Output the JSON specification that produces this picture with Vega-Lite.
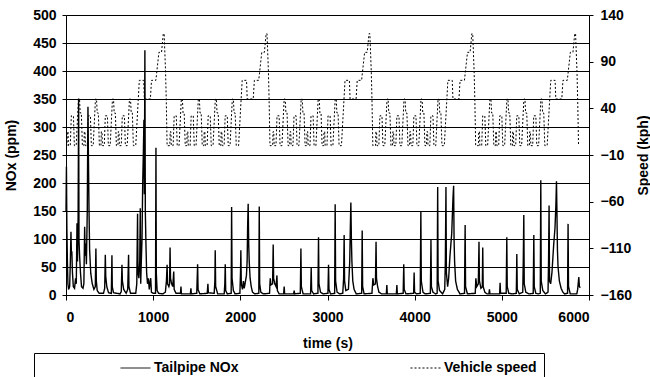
{
"$schema": "https://vega.github.io/schema/vega-lite/v6.json",
"width": 523, "height": 280,
"autosize": {"type": "none"},
"padding": {"left": 66, "top": 15, "right": 61, "bottom": 82},
"config": {
  "font": "Liberation Sans",
  "view": {"stroke": null},
  "axis": {"labelFont": "Liberation Sans", "labelFontWeight": "bold", "labelFontSize": 14, "labelColor": "black",
           "titleFont": "Liberation Sans", "titleFontWeight": "bold", "titleFontSize": 14, "titleColor": "black",
           "domainColor": "black", "tickColor": "black", "gridColor": "black", "gridOpacity": 1, "domainWidth": 1, "tickWidth": 1}
},
"datasets": {
"nox": [
{"t":0,"nox":150},{"t":5,"nox":229},{"t":10,"nox":120},{"t":16,"nox":60},{"t":22,"nox":20},{"t":30,"nox":10},{"t":42,"nox":15},{"t":50,"nox":60},{"t":57,"nox":113},{"t":62,"nox":72},{"t":67,"nox":78},{"t":74,"nox":40},{"t":84,"nox":15},{"t":98,"nox":12},{"t":110,"nox":30},{"t":118,"nox":20},{"t":126,"nox":128},{"t":132,"nox":60},{"t":139,"nox":140},{"t":145,"nox":351},{"t":149,"nox":98},{"t":156,"nox":70},{"t":166,"nox":40},{"t":178,"nox":15},{"t":195,"nox":12},{"t":205,"nox":20},{"t":214,"nox":122},{"t":220,"nox":70},{"t":226,"nox":92},{"t":234,"nox":55},{"t":244,"nox":150},{"t":252,"nox":336},{"t":257,"nox":250},{"t":264,"nox":152},{"t":271,"nox":80},{"t":284,"nox":39},{"t":300,"nox":21},{"t":320,"nox":10},{"t":336,"nox":15},{"t":343,"nox":83},{"t":348,"nox":25},{"t":358,"nox":8},{"t":380,"nox":3},{"t":430,"nox":3},{"t":444,"nox":12},{"t":451,"nox":72},{"t":456,"nox":33},{"t":468,"nox":15},{"t":488,"nox":4},{"t":520,"nox":3},{"t":527,"nox":71},{"t":531,"nox":15},{"t":545,"nox":4},{"t":620,"nox":2},{"t":634,"nox":6},{"t":642,"nox":54},{"t":647,"nox":25},{"t":662,"nox":10},{"t":690,"nox":3},{"t":708,"nox":10},{"t":718,"nox":72},{"t":722,"nox":15},{"t":740,"nox":3},{"t":800,"nox":3},{"t":812,"nox":20},{"t":821,"nox":145},{"t":826,"nox":40},{"t":836,"nox":30},{"t":846,"nox":60},{"t":852,"nox":155},{"t":857,"nox":20},{"t":864,"nox":60},{"t":872,"nox":100},{"t":880,"nox":200},{"t":887,"nox":250},{"t":894,"nox":313},{"t":899,"nox":180},{"t":905,"nox":437},{"t":910,"nox":150},{"t":917,"nox":92},{"t":925,"nox":40},{"t":935,"nox":20},{"t":945,"nox":30},{"t":955,"nox":10},{"t":966,"nox":25},{"t":972,"nox":30},{"t":980,"nox":5},{"t":1000,"nox":3},{"t":1027,"nox":3},{"t":1032,"nox":263},{"t":1036,"nox":40},{"t":1045,"nox":8},{"t":1062,"nox":3},{"t":1110,"nox":2},{"t":1140,"nox":5},{"t":1152,"nox":25},{"t":1160,"nox":54},{"t":1165,"nox":20},{"t":1180,"nox":15},{"t":1188,"nox":20},{"t":1194,"nox":85},{"t":1199,"nox":30},{"t":1212,"nox":20},{"t":1225,"nox":15},{"t":1236,"nox":42},{"t":1241,"nox":10},{"t":1262,"nox":3},{"t":1313,"nox":3},{"t":1319,"nox":15},{"t":1324,"nox":2},{"t":1427,"nox":2},{"t":1433,"nox":12},{"t":1438,"nox":2},{"t":1500,"nox":3},{"t":1510,"nox":55},{"t":1515,"nox":10},{"t":1535,"nox":2},{"t":1620,"nox":3},{"t":1628,"nox":20},{"t":1633,"nox":4},{"t":1700,"nox":3},{"t":1708,"nox":25},{"t":1712,"nox":80},{"t":1717,"nox":15},{"t":1740,"nox":2},{"t":1815,"nox":2},{"t":1822,"nox":20},{"t":1827,"nox":55},{"t":1832,"nox":8},{"t":1850,"nox":2},{"t":1895,"nox":3},{"t":1900,"nox":157},{"t":1905,"nox":30},{"t":1920,"nox":8},{"t":1940,"nox":2},{"t":1995,"nox":3},{"t":2002,"nox":40},{"t":2006,"nox":80},{"t":2011,"nox":20},{"t":2025,"nox":10},{"t":2035,"nox":25},{"t":2045,"nox":12},{"t":2070,"nox":35},{"t":2078,"nox":60},{"t":2084,"nox":125},{"t":2090,"nox":163},{"t":2096,"nox":90},{"t":2102,"nox":60},{"t":2112,"nox":30},{"t":2125,"nox":15},{"t":2140,"nox":5},{"t":2165,"nox":2},{"t":2212,"nox":3},{"t":2217,"nox":158},{"t":2222,"nox":20},{"t":2235,"nox":5},{"t":2265,"nox":2},{"t":2335,"nox":3},{"t":2343,"nox":30},{"t":2350,"nox":18},{"t":2370,"nox":20},{"t":2377,"nox":90},{"t":2382,"nox":30},{"t":2395,"nox":20},{"t":2410,"nox":15},{"t":2420,"nox":35},{"t":2425,"nox":8},{"t":2445,"nox":2},{"t":2497,"nox":2},{"t":2503,"nox":15},{"t":2508,"nox":2},{"t":2612,"nox":2},{"t":2618,"nox":8},{"t":2623,"nox":2},{"t":2688,"nox":3},{"t":2695,"nox":83},{"t":2700,"nox":15},{"t":2720,"nox":2},{"t":2806,"nox":2},{"t":2813,"nox":48},{"t":2818,"nox":8},{"t":2840,"nox":2},{"t":2890,"nox":3},{"t":2897,"nox":103},{"t":2902,"nox":20},{"t":2920,"nox":5},{"t":2950,"nox":2},{"t":3005,"nox":3},{"t":3012,"nox":54},{"t":3017,"nox":10},{"t":3035,"nox":2},{"t":3082,"nox":3},{"t":3088,"nox":162},{"t":3093,"nox":25},{"t":3110,"nox":5},{"t":3140,"nox":2},{"t":3175,"nox":3},{"t":3185,"nox":30},{"t":3191,"nox":107},{"t":3196,"nox":25},{"t":3210,"nox":8},{"t":3240,"nox":10},{"t":3255,"nox":60},{"t":3262,"nox":120},{"t":3268,"nox":165},{"t":3274,"nox":100},{"t":3280,"nox":60},{"t":3290,"nox":25},{"t":3305,"nox":10},{"t":3330,"nox":2},{"t":3392,"nox":3},{"t":3398,"nox":115},{"t":3403,"nox":15},{"t":3420,"nox":2},{"t":3510,"nox":3},{"t":3521,"nox":30},{"t":3530,"nox":18},{"t":3550,"nox":20},{"t":3557,"nox":95},{"t":3562,"nox":30},{"t":3575,"nox":15},{"t":3590,"nox":5},{"t":3620,"nox":2},{"t":3675,"nox":2},{"t":3681,"nox":18},{"t":3686,"nox":2},{"t":3790,"nox":2},{"t":3796,"nox":18},{"t":3801,"nox":2},{"t":3868,"nox":3},{"t":3875,"nox":55},{"t":3880,"nox":10},{"t":3900,"nox":2},{"t":3988,"nox":3},{"t":3994,"nox":40},{"t":3999,"nox":5},{"t":4020,"nox":2},{"t":4064,"nox":3},{"t":4071,"nox":150},{"t":4076,"nox":25},{"t":4095,"nox":5},{"t":4120,"nox":2},{"t":4180,"nox":3},{"t":4187,"nox":98},{"t":4192,"nox":15},{"t":4210,"nox":5},{"t":4240,"nox":2},{"t":4258,"nox":3},{"t":4264,"nox":193},{"t":4269,"nox":25},{"t":4285,"nox":8},{"t":4320,"nox":2},{"t":4345,"nox":10},{"t":4352,"nox":60},{"t":4359,"nox":193},{"t":4364,"nox":40},{"t":4378,"nox":15},{"t":4390,"nox":30},{"t":4405,"nox":70},{"t":4425,"nox":110},{"t":4440,"nox":175},{"t":4447,"nox":195},{"t":4452,"nox":100},{"t":4458,"nox":60},{"t":4470,"nox":25},{"t":4490,"nox":10},{"t":4520,"nox":2},{"t":4572,"nox":3},{"t":4579,"nox":125},{"t":4584,"nox":15},{"t":4605,"nox":2},{"t":4695,"nox":3},{"t":4702,"nox":30},{"t":4712,"nox":15},{"t":4730,"nox":20},{"t":4738,"nox":95},{"t":4743,"nox":25},{"t":4760,"nox":12},{"t":4776,"nox":15},{"t":4781,"nox":85},{"t":4786,"nox":15},{"t":4805,"nox":5},{"t":4830,"nox":2},{"t":4852,"nox":2},{"t":4858,"nox":10},{"t":4863,"nox":2},{"t":4975,"nox":2},{"t":4980,"nox":22},{"t":4985,"nox":3},{"t":5050,"nox":3},{"t":5057,"nox":103},{"t":5062,"nox":15},{"t":5080,"nox":3},{"t":5120,"nox":2},{"t":5166,"nox":3},{"t":5172,"nox":73},{"t":5177,"nox":10},{"t":5200,"nox":2},{"t":5240,"nox":5},{"t":5246,"nox":60},{"t":5252,"nox":143},{"t":5257,"nox":20},{"t":5275,"nox":5},{"t":5310,"nox":2},{"t":5360,"nox":3},{"t":5367,"nox":107},{"t":5372,"nox":15},{"t":5390,"nox":3},{"t":5420,"nox":2},{"t":5441,"nox":3},{"t":5447,"nox":205},{"t":5452,"nox":25},{"t":5470,"nox":8},{"t":5500,"nox":2},{"t":5530,"nox":5},{"t":5536,"nox":60},{"t":5542,"nox":160},{"t":5547,"nox":25},{"t":5560,"nox":20},{"t":5575,"nox":40},{"t":5595,"nox":90},{"t":5610,"nox":120},{"t":5620,"nox":160},{"t":5627,"nox":203},{"t":5632,"nox":150},{"t":5638,"nox":80},{"t":5645,"nox":50},{"t":5660,"nox":25},{"t":5680,"nox":12},{"t":5700,"nox":5},{"t":5720,"nox":2},{"t":5754,"nox":3},{"t":5760,"nox":127},{"t":5765,"nox":15},{"t":5785,"nox":2},{"t":5860,"nox":2},{"t":5870,"nox":10},{"t":5883,"nox":32},{"t":5890,"nox":15},{"t":5900,"nox":13}
],
"speed": [
{"t":0,"speed":0},
{"t":11,"speed":0},{"t":15,"speed":15},{"t":23,"speed":15},{"t":28,"speed":0},{"t":49,"speed":0},{"t":61,"speed":32},{"t":85,"speed":32},{"t":96,"speed":0},{"t":117,"speed":0},{"t":143,"speed":50},{"t":155,"speed":50},{"t":163,"speed":35},{"t":176,"speed":35},{"t":188,"speed":0},
{"t":206,"speed":0},{"t":210,"speed":15},{"t":218,"speed":15},{"t":223,"speed":0},{"t":244,"speed":0},{"t":256,"speed":32},{"t":280,"speed":32},{"t":291,"speed":0},{"t":312,"speed":0},{"t":338,"speed":50},{"t":350,"speed":50},{"t":358,"speed":35},{"t":371,"speed":35},{"t":383,"speed":0},
{"t":401,"speed":0},{"t":405,"speed":15},{"t":413,"speed":15},{"t":418,"speed":0},{"t":439,"speed":0},{"t":451,"speed":32},{"t":475,"speed":32},{"t":486,"speed":0},{"t":507,"speed":0},{"t":533,"speed":50},{"t":545,"speed":50},{"t":553,"speed":35},{"t":566,"speed":35},{"t":578,"speed":0},
{"t":596,"speed":0},{"t":600,"speed":15},{"t":608,"speed":15},{"t":613,"speed":0},{"t":634,"speed":0},{"t":646,"speed":32},{"t":670,"speed":32},{"t":681,"speed":0},{"t":702,"speed":0},{"t":728,"speed":50},{"t":740,"speed":50},{"t":748,"speed":35},{"t":761,"speed":35},{"t":773,"speed":0},
{"t":800,"speed":0},{"t":841,"speed":70},{"t":891,"speed":70},{"t":899,"speed":50},{"t":968,"speed":50},{"t":981,"speed":70},{"t":1031,"speed":70},{"t":1066,"speed":100},{"t":1096,"speed":100},{"t":1116,"speed":120},{"t":1126,"speed":120},{"t":1142,"speed":80},{"t":1150,"speed":50},{"t":1160,"speed":0},
{"t":1191,"speed":0},{"t":1195,"speed":15},{"t":1203,"speed":15},{"t":1208,"speed":0},{"t":1229,"speed":0},{"t":1241,"speed":32},{"t":1265,"speed":32},{"t":1276,"speed":0},{"t":1297,"speed":0},{"t":1323,"speed":50},{"t":1335,"speed":50},{"t":1343,"speed":35},{"t":1356,"speed":35},{"t":1368,"speed":0},
{"t":1386,"speed":0},{"t":1390,"speed":15},{"t":1398,"speed":15},{"t":1403,"speed":0},{"t":1424,"speed":0},{"t":1436,"speed":32},{"t":1460,"speed":32},{"t":1471,"speed":0},{"t":1492,"speed":0},{"t":1518,"speed":50},{"t":1530,"speed":50},{"t":1538,"speed":35},{"t":1551,"speed":35},{"t":1563,"speed":0},
{"t":1581,"speed":0},{"t":1585,"speed":15},{"t":1593,"speed":15},{"t":1598,"speed":0},{"t":1619,"speed":0},{"t":1631,"speed":32},{"t":1655,"speed":32},{"t":1666,"speed":0},{"t":1687,"speed":0},{"t":1713,"speed":50},{"t":1725,"speed":50},{"t":1733,"speed":35},{"t":1746,"speed":35},{"t":1758,"speed":0},
{"t":1776,"speed":0},{"t":1780,"speed":15},{"t":1788,"speed":15},{"t":1793,"speed":0},{"t":1814,"speed":0},{"t":1826,"speed":32},{"t":1850,"speed":32},{"t":1861,"speed":0},{"t":1882,"speed":0},{"t":1908,"speed":50},{"t":1920,"speed":50},{"t":1928,"speed":35},{"t":1941,"speed":35},{"t":1953,"speed":0},
{"t":1980,"speed":0},{"t":2021,"speed":70},{"t":2071,"speed":70},{"t":2079,"speed":50},{"t":2148,"speed":50},{"t":2161,"speed":70},{"t":2211,"speed":70},{"t":2246,"speed":100},{"t":2276,"speed":100},{"t":2296,"speed":120},{"t":2306,"speed":120},{"t":2322,"speed":80},{"t":2330,"speed":50},{"t":2340,"speed":0},
{"t":2371,"speed":0},{"t":2375,"speed":15},{"t":2383,"speed":15},{"t":2388,"speed":0},{"t":2409,"speed":0},{"t":2421,"speed":32},{"t":2445,"speed":32},{"t":2456,"speed":0},{"t":2477,"speed":0},{"t":2503,"speed":50},{"t":2515,"speed":50},{"t":2523,"speed":35},{"t":2536,"speed":35},{"t":2548,"speed":0},
{"t":2566,"speed":0},{"t":2570,"speed":15},{"t":2578,"speed":15},{"t":2583,"speed":0},{"t":2604,"speed":0},{"t":2616,"speed":32},{"t":2640,"speed":32},{"t":2651,"speed":0},{"t":2672,"speed":0},{"t":2698,"speed":50},{"t":2710,"speed":50},{"t":2718,"speed":35},{"t":2731,"speed":35},{"t":2743,"speed":0},
{"t":2761,"speed":0},{"t":2765,"speed":15},{"t":2773,"speed":15},{"t":2778,"speed":0},{"t":2799,"speed":0},{"t":2811,"speed":32},{"t":2835,"speed":32},{"t":2846,"speed":0},{"t":2867,"speed":0},{"t":2893,"speed":50},{"t":2905,"speed":50},{"t":2913,"speed":35},{"t":2926,"speed":35},{"t":2938,"speed":0},
{"t":2956,"speed":0},{"t":2960,"speed":15},{"t":2968,"speed":15},{"t":2973,"speed":0},{"t":2994,"speed":0},{"t":3006,"speed":32},{"t":3030,"speed":32},{"t":3041,"speed":0},{"t":3062,"speed":0},{"t":3088,"speed":50},{"t":3100,"speed":50},{"t":3108,"speed":35},{"t":3121,"speed":35},{"t":3133,"speed":0},
{"t":3160,"speed":0},{"t":3201,"speed":70},{"t":3251,"speed":70},{"t":3259,"speed":50},{"t":3328,"speed":50},{"t":3341,"speed":70},{"t":3391,"speed":70},{"t":3426,"speed":100},{"t":3456,"speed":100},{"t":3476,"speed":120},{"t":3486,"speed":120},{"t":3502,"speed":80},{"t":3510,"speed":50},{"t":3520,"speed":0},
{"t":3551,"speed":0},{"t":3555,"speed":15},{"t":3563,"speed":15},{"t":3568,"speed":0},{"t":3589,"speed":0},{"t":3601,"speed":32},{"t":3625,"speed":32},{"t":3636,"speed":0},{"t":3657,"speed":0},{"t":3683,"speed":50},{"t":3695,"speed":50},{"t":3703,"speed":35},{"t":3716,"speed":35},{"t":3728,"speed":0},
{"t":3746,"speed":0},{"t":3750,"speed":15},{"t":3758,"speed":15},{"t":3763,"speed":0},{"t":3784,"speed":0},{"t":3796,"speed":32},{"t":3820,"speed":32},{"t":3831,"speed":0},{"t":3852,"speed":0},{"t":3878,"speed":50},{"t":3890,"speed":50},{"t":3898,"speed":35},{"t":3911,"speed":35},{"t":3923,"speed":0},
{"t":3941,"speed":0},{"t":3945,"speed":15},{"t":3953,"speed":15},{"t":3958,"speed":0},{"t":3979,"speed":0},{"t":3991,"speed":32},{"t":4015,"speed":32},{"t":4026,"speed":0},{"t":4047,"speed":0},{"t":4073,"speed":50},{"t":4085,"speed":50},{"t":4093,"speed":35},{"t":4106,"speed":35},{"t":4118,"speed":0},
{"t":4136,"speed":0},{"t":4140,"speed":15},{"t":4148,"speed":15},{"t":4153,"speed":0},{"t":4174,"speed":0},{"t":4186,"speed":32},{"t":4210,"speed":32},{"t":4221,"speed":0},{"t":4242,"speed":0},{"t":4268,"speed":50},{"t":4280,"speed":50},{"t":4288,"speed":35},{"t":4301,"speed":35},{"t":4313,"speed":0},
{"t":4340,"speed":0},{"t":4381,"speed":70},{"t":4431,"speed":70},{"t":4439,"speed":50},{"t":4508,"speed":50},{"t":4521,"speed":70},{"t":4571,"speed":70},{"t":4606,"speed":100},{"t":4636,"speed":100},{"t":4656,"speed":120},{"t":4666,"speed":120},{"t":4682,"speed":80},{"t":4690,"speed":50},{"t":4700,"speed":0},
{"t":4731,"speed":0},{"t":4735,"speed":15},{"t":4743,"speed":15},{"t":4748,"speed":0},{"t":4769,"speed":0},{"t":4781,"speed":32},{"t":4805,"speed":32},{"t":4816,"speed":0},{"t":4837,"speed":0},{"t":4863,"speed":50},{"t":4875,"speed":50},{"t":4883,"speed":35},{"t":4896,"speed":35},{"t":4908,"speed":0},
{"t":4926,"speed":0},{"t":4930,"speed":15},{"t":4938,"speed":15},{"t":4943,"speed":0},{"t":4964,"speed":0},{"t":4976,"speed":32},{"t":5000,"speed":32},{"t":5011,"speed":0},{"t":5032,"speed":0},{"t":5058,"speed":50},{"t":5070,"speed":50},{"t":5078,"speed":35},{"t":5091,"speed":35},{"t":5103,"speed":0},
{"t":5121,"speed":0},{"t":5125,"speed":15},{"t":5133,"speed":15},{"t":5138,"speed":0},{"t":5159,"speed":0},{"t":5171,"speed":32},{"t":5195,"speed":32},{"t":5206,"speed":0},{"t":5227,"speed":0},{"t":5253,"speed":50},{"t":5265,"speed":50},{"t":5273,"speed":35},{"t":5286,"speed":35},{"t":5298,"speed":0},
{"t":5316,"speed":0},{"t":5320,"speed":15},{"t":5328,"speed":15},{"t":5333,"speed":0},{"t":5354,"speed":0},{"t":5366,"speed":32},{"t":5390,"speed":32},{"t":5401,"speed":0},{"t":5422,"speed":0},{"t":5448,"speed":50},{"t":5460,"speed":50},{"t":5468,"speed":35},{"t":5481,"speed":35},{"t":5493,"speed":0},
{"t":5520,"speed":0},{"t":5561,"speed":70},{"t":5611,"speed":70},{"t":5619,"speed":50},{"t":5688,"speed":50},{"t":5701,"speed":70},{"t":5751,"speed":70},{"t":5786,"speed":100},{"t":5816,"speed":100},{"t":5836,"speed":120},{"t":5846,"speed":120},{"t":5862,"speed":80},{"t":5870,"speed":50},{"t":5880,"speed":0}
]
},
"layer": [
  {
    "data": {"name": "nox"},
    "mark": {"type": "line", "color": "black", "strokeWidth": 1.4},
    "encoding": {
      "x": {"field": "t", "type": "quantitative",
            "scale": {"domain": [0, 6000], "nice": false, "zero": false},
            "axis": {"title": "time (s)", "values": [0,1000,2000,3000,4000,5000,6000], "format": "d", "grid": false,
                     "tickSize": 5, "labelPadding": 10, "titlePadding": 12}},
      "y": {"field": "nox", "type": "quantitative",
            "scale": {"domain": [0, 500], "nice": false},
            "axis": {"title": "NOx (ppm)", "values": [0,50,100,150,200,250,300,350,400,450,500], "format": "d", "grid": true,
                     "tickSize": 4, "labelPadding": 6, "titlePadding": 14}},
      "strokeDash": {"datum": "Tailpipe NOx", "type": "nominal",
            "scale": {"domain": ["Tailpipe NOx", "Vehicle speed"], "range": [[1, 0], [2, 2]]},
            "legend": {"orient": "none", "legendX": -32, "legendY": 338, "direction": "horizontal",
                       "title": "\u00a0", "titleOrient": "left", "titlePadding": 79, "titleFontSize": 14, "titleFont": "Liberation Sans",
                       "strokeColor": "black", "padding": 7, "symbolType": "stroke", "symbolSize": 900, "clipHeight": 16,
                       "symbolStrokeWidth": 1, "symbolStrokeColor": "black", "labelOffset": 3,
                       "labelFont": "Liberation Sans", "labelFontSize": 14, "labelFontWeight": "bold", "labelColor": "black",
                       "columnPadding": 171, "labelLimit": 300}}
    }
  },
  {
    "data": {"name": "speed"},
    "mark": {"type": "line", "color": "black", "strokeWidth": 1},
    "encoding": {
      "x": {"field": "t", "type": "quantitative"},
      "y": {"field": "speed", "type": "quantitative",
            "scale": {"domain": [-160, 140], "nice": false, "zero": false},
            "axis": {"orient": "right", "title": "Speed (kph)", "values": [-160,-110,-60,-10,40,90,140], "format": "d", "grid": false,
                     "tickSize": 4, "labelPadding": 7, "titleAngle": 270, "titleBaseline": "top", "titlePadding": 5}},
      "strokeDash": {"datum": "Vehicle speed", "type": "nominal"}
    }
  }
],
"resolve": {"scale": {"y": "independent"}}
}
